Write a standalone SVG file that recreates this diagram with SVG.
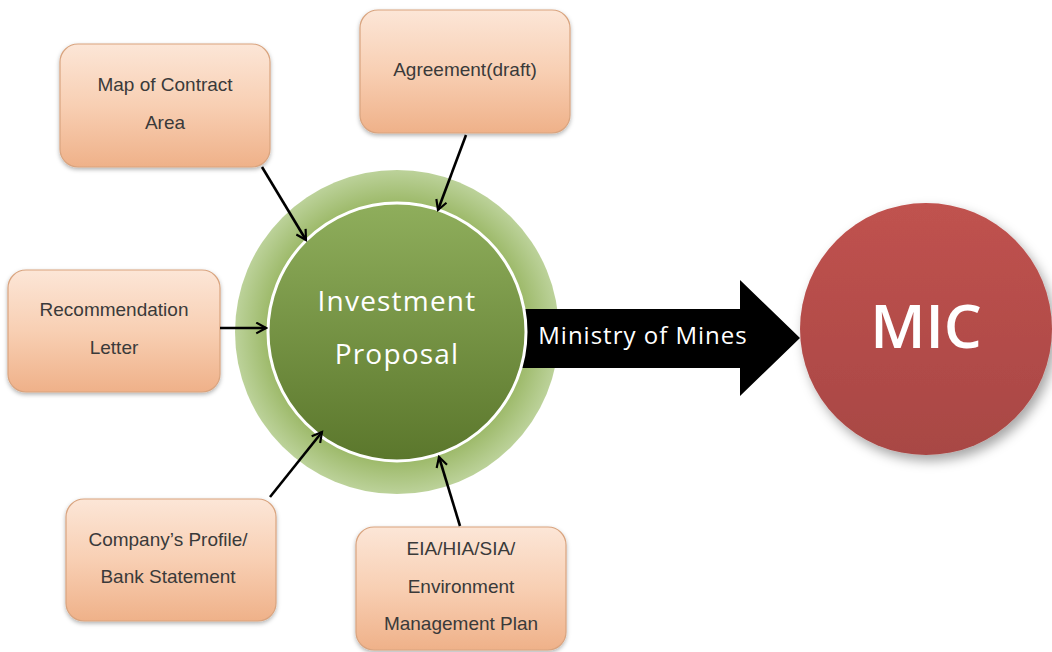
<svg xmlns="http://www.w3.org/2000/svg" width="1052" height="652" viewBox="0 0 1052 652">
<defs>
<style>
.box{fill:url(#peach);stroke:#d9a47f;stroke-width:1.2;filter:url(#sh)}
.bt{font-family:"Liberation Sans",Arial,sans-serif;font-size:19px;fill:#3a3a3a;text-anchor:middle}
.con{stroke:#000;stroke-width:2.6;fill:none;marker-end:url(#ah)}
.wt{font-family:"Open Sans","Liberation Sans",sans-serif;fill:#fff;text-anchor:middle}
</style>
<linearGradient id="peach" x1="0" y1="0" x2="0" y2="1">
<stop offset="0" stop-color="#fce6d7"/>
<stop offset="0.5" stop-color="#f8cfb3"/>
<stop offset="1" stop-color="#efb189"/>
</linearGradient>
<radialGradient id="ring" cx="0.5" cy="0.5" r="0.5">
<stop offset="0.78" stop-color="#9ab765"/>
<stop offset="1" stop-color="#bcd29a"/>
</radialGradient>
<linearGradient id="grn" x1="0" y1="0" x2="0" y2="1">
<stop offset="0" stop-color="#8fae5c"/>
<stop offset="1" stop-color="#5b772c"/>
</linearGradient>
<linearGradient id="red" x1="0" y1="0" x2="0" y2="1">
<stop offset="0" stop-color="#c0524f"/>
<stop offset="1" stop-color="#a84744"/>
</linearGradient>
<filter id="sh" x="-20%" y="-20%" width="140%" height="150%">
<feDropShadow dx="0" dy="2" stdDeviation="2" flood-color="#000" flood-opacity="0.3"/>
</filter>
<filter id="sh2" x="-20%" y="-20%" width="150%" height="150%">
<feDropShadow dx="4" dy="6" stdDeviation="6" flood-color="#000" flood-opacity="0.35"/>
</filter>
<marker id="ah" viewBox="0 0 12 12" refX="10" refY="6" markerWidth="5" markerHeight="5" orient="auto" markerUnits="strokeWidth">
<path d="M1,1 L10,6 L1,11" fill="none" stroke="#000" stroke-width="2"/>
</marker>
</defs>

<g id="node-mic">
<circle cx="926" cy="329" r="126" fill="url(#red)" filter="url(#sh2)"/>
<text class="wt" x="926" y="348" font-size="60" font-weight="600">MIC</text>
</g>

<g id="node-proposal">
<circle cx="397" cy="332" r="162" fill="url(#ring)"/>
</g>

<g id="node-ministry">
<path d="M522,309 L740,309 L740,280 L800,338 L740,396 L740,368 L522,368 Z" fill="#000"/>
<text class="wt" x="643" y="344" font-size="24" letter-spacing="1">Ministry of Mines</text>
</g>

<g id="node-proposal-core">
<circle cx="397" cy="332" r="129" fill="url(#grn)" stroke="#fff" stroke-width="3"/>
<text class="wt" x="397" y="311" font-size="28" letter-spacing="1.2">Investment</text>
<text class="wt" x="397" y="364" font-size="28" letter-spacing="1.2">Proposal</text>
</g>

<g id="node-map">
<rect class="box" x="60" y="44" width="210" height="123" rx="18"/>
<text class="bt" x="165" y="91">Map of Contract</text>
<text class="bt" x="165" y="129">Area</text>
</g>

<g id="node-agreement">
<rect class="box" x="360" y="10" width="210" height="123" rx="18"/>
<text class="bt" x="465" y="76">Agreement(draft)</text>
</g>

<g id="node-recommendation">
<rect class="box" x="8" y="270" width="212" height="122" rx="18"/>
<text class="bt" x="114" y="316">Recommendation</text>
<text class="bt" x="114" y="354">Letter</text>
</g>

<g id="node-company">
<rect class="box" x="66" y="499" width="210" height="122" rx="18"/>
<text class="bt" x="168" y="546">Company’s Profile/</text>
<text class="bt" x="168" y="583">Bank Statement</text>
</g>

<g id="node-eia">
<rect class="box" x="356" y="527" width="210" height="123" rx="18"/>
<text class="bt" x="461" y="555">EIA/HIA/SIA/</text>
<text class="bt" x="461" y="593">Environment</text>
<text class="bt" x="461" y="630">Management Plan</text>
</g>

<g id="connectors">
<line class="con" x1="262" y1="167" x2="306" y2="240"/>
<line class="con" x1="466" y1="135" x2="438" y2="210"/>
<line class="con" x1="220" y1="328" x2="266" y2="328"/>
<line class="con" x1="270" y1="497" x2="322" y2="432"/>
<line class="con" x1="460" y1="526" x2="439" y2="457"/>
</g>
</svg>
